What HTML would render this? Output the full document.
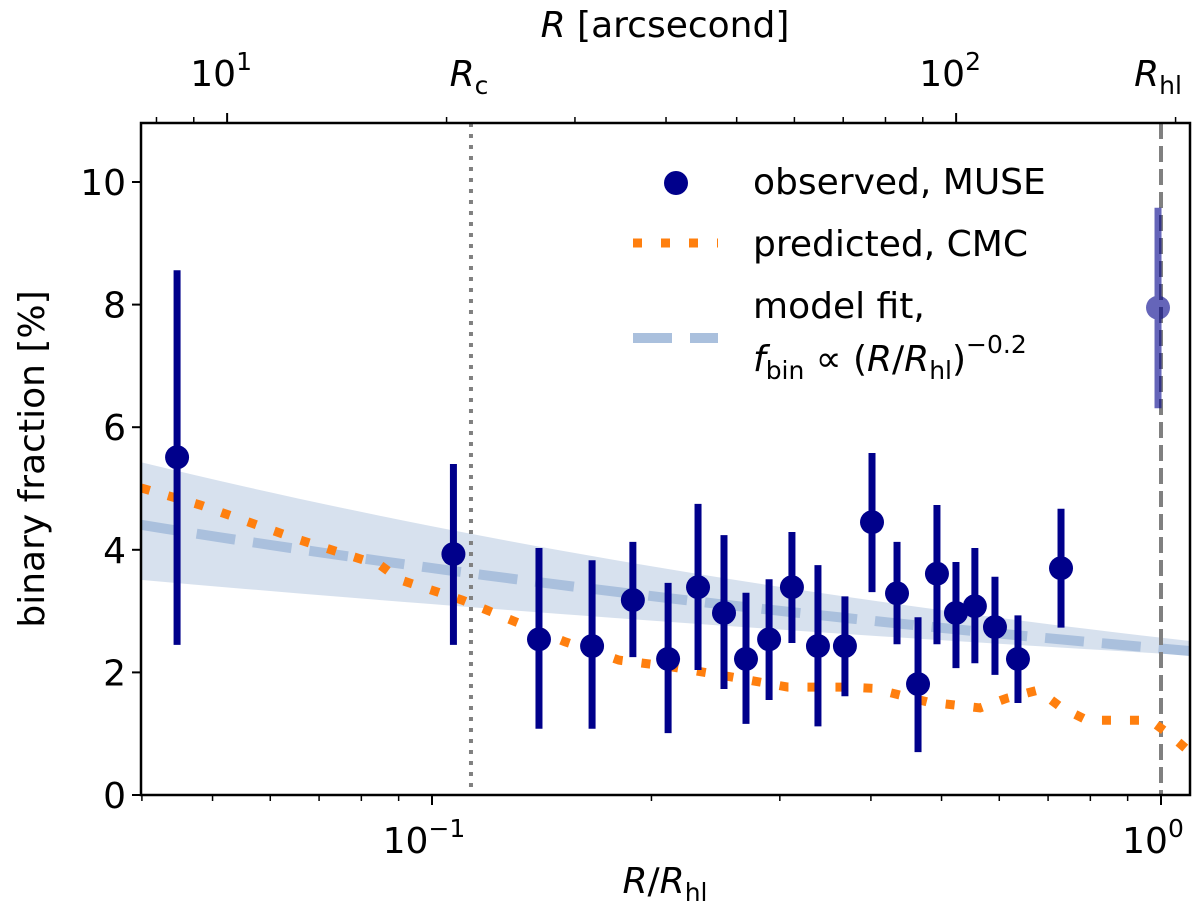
<!DOCTYPE html>
<html><head><meta charset="utf-8"><style>
html,body{margin:0;padding:0;background:#fff}
svg{display:block;font-family:"DejaVu Sans","Liberation Sans",sans-serif}
</style></head><body>
<svg id="chart" width="1200" height="921" viewBox="0 0 1200 921" xmlns="http://www.w3.org/2000/svg">
<defs><clipPath id="clip"><rect x="141" y="123" width="1049" height="672"/></clipPath></defs>
<g id="plot" clip-path="url(#clip)"></g>
<g id="axes"></g>
<g id="legend">
  <circle cx="676" cy="183" r="12" fill="#00008b"/>
  <text x="753" y="194" font-size="36">observed, MUSE</text>
  <line x1="633" y1="243" x2="718" y2="243" stroke="#ff7f0e" stroke-width="9" stroke-dasharray="9,19"/>
  <text x="753" y="256" font-size="36">predicted, CMC</text>
  <line x1="633" y1="338" x2="718" y2="338" stroke="#aac0dd" stroke-width="10" stroke-dasharray="39,18"/>
  <text x="753" y="318" font-size="36">model fit,</text>
  <text x="753" y="371" font-size="36"><tspan font-style="italic">f</tspan><tspan font-size="25" dy="8">bin</tspan><tspan dy="-8"> ∝ (</tspan><tspan font-style="italic">R</tspan><tspan>/</tspan><tspan font-style="italic">R</tspan><tspan font-size="25" dy="8">hl</tspan><tspan dy="-8">)</tspan><tspan font-size="25" dy="-18">−0.2</tspan></text>
</g>
</svg>
<script>
const obsX=[0.0447,0.1070,0.1402,0.1658,0.1886,0.2108,0.2317,0.2515,0.2696,0.2900,0.3117,0.3384,0.3685,0.4014,0.4344,0.4642,0.4928,0.5233,0.5555,0.5919,0.6365,0.7292];
const obsY=[5.51,3.93,2.54,2.43,3.18,2.22,3.39,2.97,2.22,2.54,3.39,2.43,2.43,4.45,3.29,1.81,3.61,2.97,3.08,2.74,2.22,3.70];
const obsHi=[8.56,5.40,4.03,3.83,4.13,3.46,4.75,4.24,3.30,3.52,4.29,3.75,3.24,5.58,4.13,2.90,4.73,3.80,4.03,3.56,2.93,4.67];
const obsLo=[2.45,2.45,1.08,1.08,2.25,1.01,2.04,1.73,1.16,1.55,2.48,1.12,1.61,3.31,2.46,0.70,2.46,2.07,2.15,1.96,1.50,2.73];
const outerX=[0.9906], outerY=[7.95], outerHi=[9.58], outerLo=[6.31];
const cmcX=[0.0399,0.0481,0.0659,0.0849,0.0904,0.1100,0.1287,0.1522,0.1805,0.2134,0.2563,0.3077,0.3697,0.4026,0.4775,0.5646,0.6150,0.6782,0.7292,0.7917,0.8512,0.9659,1.029,1.096];
const cmcY=[5.01,4.73,4.16,3.75,3.51,3.18,2.85,2.50,2.20,2.09,1.93,1.76,1.76,1.74,1.52,1.42,1.58,1.71,1.43,1.22,1.22,1.22,0.98,0.70];
const fitParams=[2.39,0.19], bandHiParams=[2.566,0.2326], bandLoParams=[2.308,0.130];
const yTicks=[0,2,4,6,8,10];
const xMajor=[0.1,1], xMajorLabels=["10","10"], xMajorExp=["−1","0"];
const xMinor=[0.04,0.05,0.06,0.07,0.08,0.09,0.2,0.3,0.4,0.5,0.6,0.7,0.8,0.9];
const topMajor=[10,100], topMajorExp=["1","2"];
const topMinor=[8,9,20,30,40,50,60,70,80,90,200];
const Rhl_arcsec=[191], Rc_ratio=[0.1131];

const NS="http://www.w3.org/2000/svg";
const X0=141,X1=1190,Y0=795,Y1=123;
const xs=r=>1161+729*Math.log10(r);
const ys=v=>795-61.3*v;
const xt=a=>xs(a/Rhl_arcsec[0]);
function mk(tag,attrs,parent){const e=document.createElementNS(NS,tag);for(const k in attrs)e.setAttribute(k,attrs[k]);parent.appendChild(e);return e;}
const plot=document.getElementById('plot'), axes=document.getElementById('axes');

// band
const rmin=0.0398,rmax=1.1;let up=[],lo=[];
for(let i=0;i<=40;i++){const r=rmin*Math.pow(rmax/rmin,i/40);up.push(xs(r)+','+ys(bandHiParams[0]*Math.pow(r,-bandHiParams[1])));lo.unshift(xs(r)+','+ys(bandLoParams[0]*Math.pow(r,-bandLoParams[1])));}
let band=mk('polygon',{points:up.concat(lo).join(' '),fill:'#b0c4de','fill-opacity':'0.5'},plot);


let fp=[];for(let i=0;i<=40;i++){const r=rmin*Math.pow(rmax/rmin,i/40);fp.push(xs(r)+','+ys(fitParams[0]*Math.pow(r,-fitParams[1])));}
let fit=mk('polyline',{points:fp.join(' '),fill:'none',stroke:'#aac0dd','stroke-width':10,'stroke-dasharray':'39,18'},plot);


// vertical lines
let rc=mk('line',{x1:xs(Rc_ratio[0]),x2:xs(Rc_ratio[0]),y1:Y1,y2:Y0,stroke:'#808080','stroke-width':4,'stroke-dasharray':'4,7'},plot);


let rh=mk('line',{x1:xs(1),x2:xs(1),y1:Y1,y2:Y0,stroke:'#808080','stroke-width':4,'stroke-dasharray':'16,7'},plot);


// cmc
let cp=cmcX.map((r,i)=>xs(r)+','+ys(cmcY[i])).join(' ');
let cmc=mk('polyline',{points:cp,fill:'none',stroke:'#ff7f0e','stroke-width':9,'stroke-dasharray':'9,19'},plot);


// observed
obsX.forEach((r,i)=>{
  const g=mk('g',{},plot);
  
  
  mk('line',{x1:xs(r),x2:xs(r),y1:ys(obsHi[i]),y2:ys(obsLo[i]),stroke:'#00008b','stroke-width':7},g);
  mk('ellipse',{cx:xs(r),cy:ys(obsY[i]),rx:12,ry:12,fill:'#00008b'},g);
});
outerX.forEach((r,i)=>{
  const g=mk('g',{opacity:0.6},plot);
  
  
  mk('line',{x1:xs(r),x2:xs(r),y1:ys(outerHi[i]),y2:ys(outerLo[i]),stroke:'#00008b','stroke-width':7},g);
  mk('circle',{cx:xs(r),cy:ys(outerY[i]),r:12,fill:'#00008b'},g);
});
// frame
let fr=mk('rect',{x:X0,y:Y1,width:X1-X0,height:Y0-Y1,fill:'none',stroke:'#000','stroke-width':2.5},axes);


// y ticks
yTicks.forEach(v=>{mk('line',{x1:X0-9,x2:X0,y1:ys(v),y2:ys(v),stroke:'#000','stroke-width':2},axes);
  const t=mk('text',{x:X0-15,y:ys(v)+13,'font-size':36,'text-anchor':'end'},axes);t.textContent=v;
  
  });
xMinor.forEach(r=>{mk('line',{x1:xs(r),x2:xs(r),y1:Y0,y2:Y0+6,stroke:'#000','stroke-width':1.5},axes);});
xMajor.forEach((r,i)=>{mk('line',{x1:xs(r),x2:xs(r),y1:Y0,y2:Y0+10,stroke:'#000','stroke-width':2},axes);
  const t=mk('text',{x:xs(r)-8,y:Y0+58,'font-size':36,'text-anchor':'middle'},axes);
  t.innerHTML=xMajorLabels[i]+'<tspan font-size="25" dy="-16">'+xMajorExp[i]+'</tspan>';
  
  });
topMinor.forEach(a=>{mk('line',{x1:xt(a),x2:xt(a),y1:Y1,y2:Y1-6,stroke:'#000','stroke-width':1.5},axes);});
topMajor.forEach((a,i)=>{mk('line',{x1:xt(a),x2:xt(a),y1:Y1,y2:Y1-10,stroke:'#000','stroke-width':2},axes);
  const t=mk('text',{x:xt(a)-6,y:Y1-37,'font-size':36,'text-anchor':'middle'},axes);
  t.innerHTML='10<tspan font-size="25" dy="-16">'+topMajorExp[i]+'</tspan>';
  
  });
let l1=mk('text',{x:xs(Rc_ratio[0])-2,y:Y1-37,'font-size':36,'text-anchor':'middle'},axes);
l1.innerHTML='<tspan font-style="italic">R</tspan><tspan font-size="25" dy="8">c</tspan>';


let l2=mk('text',{x:xs(1)-3,y:Y1-37,'font-size':36,'text-anchor':'middle'},axes);
l2.innerHTML='<tspan font-style="italic">R</tspan><tspan font-size="25" dy="8">hl</tspan>';


let xl=mk('text',{x:665,y:893,'font-size':36,'text-anchor':'middle'},axes);
xl.innerHTML='<tspan font-style="italic">R</tspan>/<tspan font-style="italic">R</tspan><tspan font-size="25" dy="8">hl</tspan>';


let tl=mk('text',{x:665,y:37,'font-size':36,'text-anchor':'middle'},axes);
tl.innerHTML='<tspan font-style="italic">R</tspan> [arcsecond]';


let yl=mk('text',{x:0,y:0,'font-size':36,'text-anchor':'middle',transform:'translate(44,459) rotate(-90)'},axes);
yl.textContent='binary fraction [%]';


</script>
</body></html>
